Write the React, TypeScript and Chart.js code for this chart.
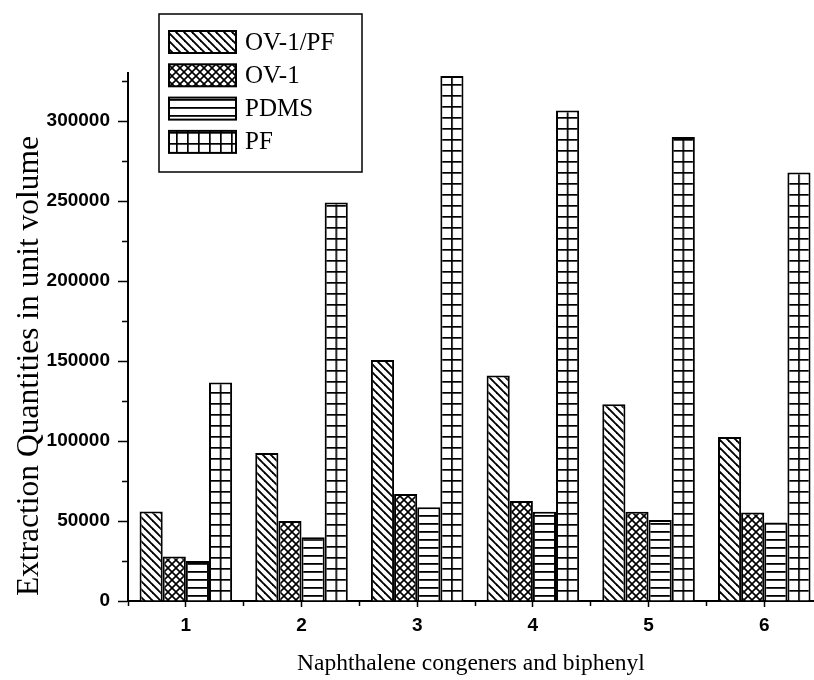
import React, { useEffect, useRef } from 'react';
import { Chart, registerables } from 'chart.js';

Chart.register(...registerables);

// ---- data ----
const categories = [1, 2, 3, 4, 5, 6];
const seriesLabels = ['OV-1/PF', 'OV-1', 'PDMS', 'PF'];
const ov1pfValues = [56000, 92500, 150600, 141000, 123000, 102500];
const ov1Values = [27800, 50000, 66800, 62500, 55800, 55300];
const pdmsValues = [25000, 39800, 58600, 55800, 50600, 49000];
const pfValues = [136500, 249000, 328200, 306500, 290000, 267800];
const yMin = 0;
const yMax = 330000;
const yMajorTicks = [0, 50000, 100000, 150000, 200000, 250000, 300000];
const yMinorTicks = [25000, 75000, 125000, 175000, 225000, 275000, 325000];
const xMin = 0.5;
const xMax = 6.43;
const xMinorTicks = [0.5, 1.5, 2.5, 3.5, 4.5, 5.5];
const xTitle = 'Naphthalene congeners and biphenyl';
const yTitle = 'Extraction Quantities in unit volume';

const SERIF = '"Liberation Serif", "Times New Roman", serif';
const SANS = '"Liberation Sans", Arial, sans-serif';

function makeTile(size: number, draw: (g: CanvasRenderingContext2D, s: number) => void) {
  const c = document.createElement('canvas');
  c.width = size;
  c.height = size;
  const g = c.getContext('2d') as CanvasRenderingContext2D;
  g.fillStyle = '#fff';
  g.fillRect(0, 0, size, size);
  g.strokeStyle = '#000';
  g.fillStyle = '#000';
  draw(g, size);
  return c;
}

export default function App() {
  const ref = useRef<HTMLCanvasElement | null>(null);

  useEffect(() => {
    const canvas = ref.current;
    if (!canvas) return;
    const ctx = canvas.getContext('2d') as CanvasRenderingContext2D;

    const diagTile = makeTile(8, (g, s) => {
      g.lineWidth = 1.9;
      for (let k = -1; k <= 1; k++) {
        g.beginPath();
        g.moveTo(k * s - 2, -2);
        g.lineTo(k * s + s + 2, s + 2);
        g.stroke();
      }
    });
    const crossTile = makeTile(8, (g, s) => {
      g.lineWidth = 1.6;
      for (let k = -1; k <= 1; k++) {
        g.beginPath();
        g.moveTo(k * s - 2, -2);
        g.lineTo(k * s + s + 2, s + 2);
        g.stroke();
        g.beginPath();
        g.moveTo(k * s - 2, s + 2);
        g.lineTo(k * s + s + 2, -2);
        g.stroke();
      }
    });
    const horizTile = makeTile(8, (g, s) => {
      g.fillRect(0, 3, s, 1.8);
    });
    const gridTile = makeTile(11, (g, s) => {
      g.fillRect(0, 0, s, 1.7);
      g.fillRect(0, 0, 1.7, s);
    });

    const diagPattern = ctx.createPattern(diagTile, 'repeat') as CanvasPattern;
    const crossPattern = ctx.createPattern(crossTile, 'repeat') as CanvasPattern;
    const horizPattern = ctx.createPattern(horizTile, 'repeat') as CanvasPattern;
    const gridPattern = ctx.createPattern(gridTile, 'repeat') as CanvasPattern;
    const legendPatterns = [diagPattern, crossPattern, horizPattern, gridPattern];

    const pfFill = (c: any) => {
      const chart = c.chart;
      const xs = chart.scales && chart.scales.x;
      if (!xs || c.type !== 'data') return gridPattern;
      const step = xs.getPixelForValue(2) - xs.getPixelForValue(1);
      const barW = (step * 0.8) / 4;
      const cx = xs.getPixelForValue(categories[c.dataIndex]) + 1.5 * barW;
      const bottom = chart.chartArea ? chart.chartArea.bottom : 0;
      if (!isFinite(cx) || !isFinite(bottom)) return gridPattern;
      const p = ctx.createPattern(gridTile, 'repeat') as CanvasPattern;
      try {
        p.setTransform(new DOMMatrix().translate(cx - 0.85, bottom));
      } catch (e) {
        return gridPattern;
      }
      return p;
    };

    const toPoints = (vals: number[]) => categories.map((c, i) => ({ x: c, y: vals[i] }));

    const legendPlugin = {
      id: 'boxLegend',
      afterDraw(chart: any) {
        const g = chart.ctx as CanvasRenderingContext2D;
        const ca = chart.chartArea;
        const bx = ca.left + 31;
        const by = 14;
        const bw = 203;
        const bh = 158;
        g.save();
        g.fillStyle = '#fff';
        g.fillRect(bx, by, bw, bh);
        g.strokeStyle = '#000';
        g.lineWidth = 1.5;
        g.strokeRect(bx, by, bw, bh);
        seriesLabels.forEach((label, i) => {
          const sx = bx + 10;
          const sy = by + 17 + i * 33.3;
          g.fillStyle = legendPatterns[i];
          g.fillRect(sx, sy, 67, 22);
          g.lineWidth = 2;
          g.strokeStyle = '#000';
          g.strokeRect(sx, sy, 67, 22);
          g.fillStyle = '#000';
          g.font = `25px ${SERIF}`;
          g.textAlign = 'left';
          g.textBaseline = 'middle';
          g.fillText(label, sx + 76, sy + 12);
        });
        // y axis title
        g.save();
        g.translate(30, ca.top + (ca.bottom - ca.top) * 0.555);
        g.rotate(-Math.PI / 2);
        g.font = `31.5px ${SERIF}`;
        g.textAlign = 'center';
        g.textBaseline = 'middle';
        g.fillStyle = '#000';
        g.fillText(yTitle, 0, 0);
        g.restore();
        g.restore();
      },
    };

    const common = {
      borderColor: '#000',
      borderWidth: 2,
      xAxisID: 'x',
      yAxisID: 'y',
      categoryPercentage: 0.8,
      barPercentage: 1.0,
    };

    const tickGrid = (len: number) => ({
      offset: false,
      drawOnChartArea: false,
      drawTicks: true,
      tickLength: len,
      tickColor: '#000',
      tickWidth: 1.5,
    });

    const tickFont = { family: SANS, size: 19, weight: 'bold' };

    const chart = new Chart(canvas, {
      type: 'bar',
      data: {
        datasets: [
          { ...common, label: seriesLabels[0], data: toPoints(ov1pfValues), backgroundColor: diagPattern },
          { ...common, label: seriesLabels[1], data: toPoints(ov1Values), backgroundColor: crossPattern },
          { ...common, label: seriesLabels[2], data: toPoints(pdmsValues), backgroundColor: horizPattern },
          { ...common, label: seriesLabels[3], data: toPoints(pfValues), backgroundColor: pfFill },
        ] as any,
      },
      options: {
        responsive: false,
        animation: false,
        events: [],
        layout: { autoPadding: false, padding: { top: 73, left: 0, right: 0, bottom: 0 } },
        plugins: {
          legend: { display: false },
          tooltip: { enabled: false },
        },
        scales: {
          x: {
            type: 'linear',
            position: 'bottom',
            weight: 1,
            min: xMin,
            max: xMax,
            offset: false,
            afterBuildTicks: (s: any) => {
              s.ticks = categories.map((v) => ({ value: v }));
            },
            ticks: {
              autoSkip: false,
              maxRotation: 0,
              padding: 7,
              color: '#000',
              font: tickFont,
              callback: (v: any) => String(v),
            },
            grid: tickGrid(6),
            border: { display: true, color: '#000', width: 2 },
            title: {
              display: true,
              text: xTitle,
              color: '#000',
              font: { family: SERIF, size: 23.5 },
              padding: { top: 0, bottom: 2 },
            },
            afterFit: (s: any) => {
              s.height = 79;
            },
          },
          xMinor: {
            type: 'linear',
            position: 'bottom',
            weight: 0,
            min: xMin,
            max: xMax,
            offset: false,
            afterBuildTicks: (s: any) => {
              s.ticks = xMinorTicks.map((v) => ({ value: v }));
            },
            ticks: { callback: () => '' },
            grid: tickGrid(5),
            border: { display: false },
            afterFit: (s: any) => {
              s.height = 0;
            },
          },
          y: {
            type: 'linear',
            position: 'left',
            weight: 1,
            min: yMin,
            max: yMax,
            afterBuildTicks: (s: any) => {
              s.ticks = yMajorTicks.map((v) => ({ value: v }));
            },
            ticks: {
              padding: 8,
              color: '#000',
              font: tickFont,
              callback: (v: any) => String(v),
            },
            grid: tickGrid(10),
            border: { display: true, color: '#000', width: 2 },
            afterFit: (s: any) => {
              s.width = 128;
            },
          },
          yMinor: {
            type: 'linear',
            position: 'left',
            weight: 0,
            min: yMin,
            max: yMax,
            afterBuildTicks: (s: any) => {
              s.ticks = yMinorTicks.map((v) => ({ value: v }));
            },
            ticks: { callback: () => '' },
            grid: tickGrid(6),
            border: { display: false },
            afterFit: (s: any) => {
              s.width = 0;
            },
          },
        },
      } as any,
      plugins: [legendPlugin],
    });

    return () => {
      chart.destroy();
    };
  }, []);

  return (
    <div
      style={{
        position: 'fixed',
        left: 0,
        top: 0,
        width: 814,
        height: 680,
        overflow: 'hidden',
        background: '#fff',
      }}
    >
      <canvas ref={ref} width={814} height={680} style={{ display: 'block' }} />
    </div>
  );
}
